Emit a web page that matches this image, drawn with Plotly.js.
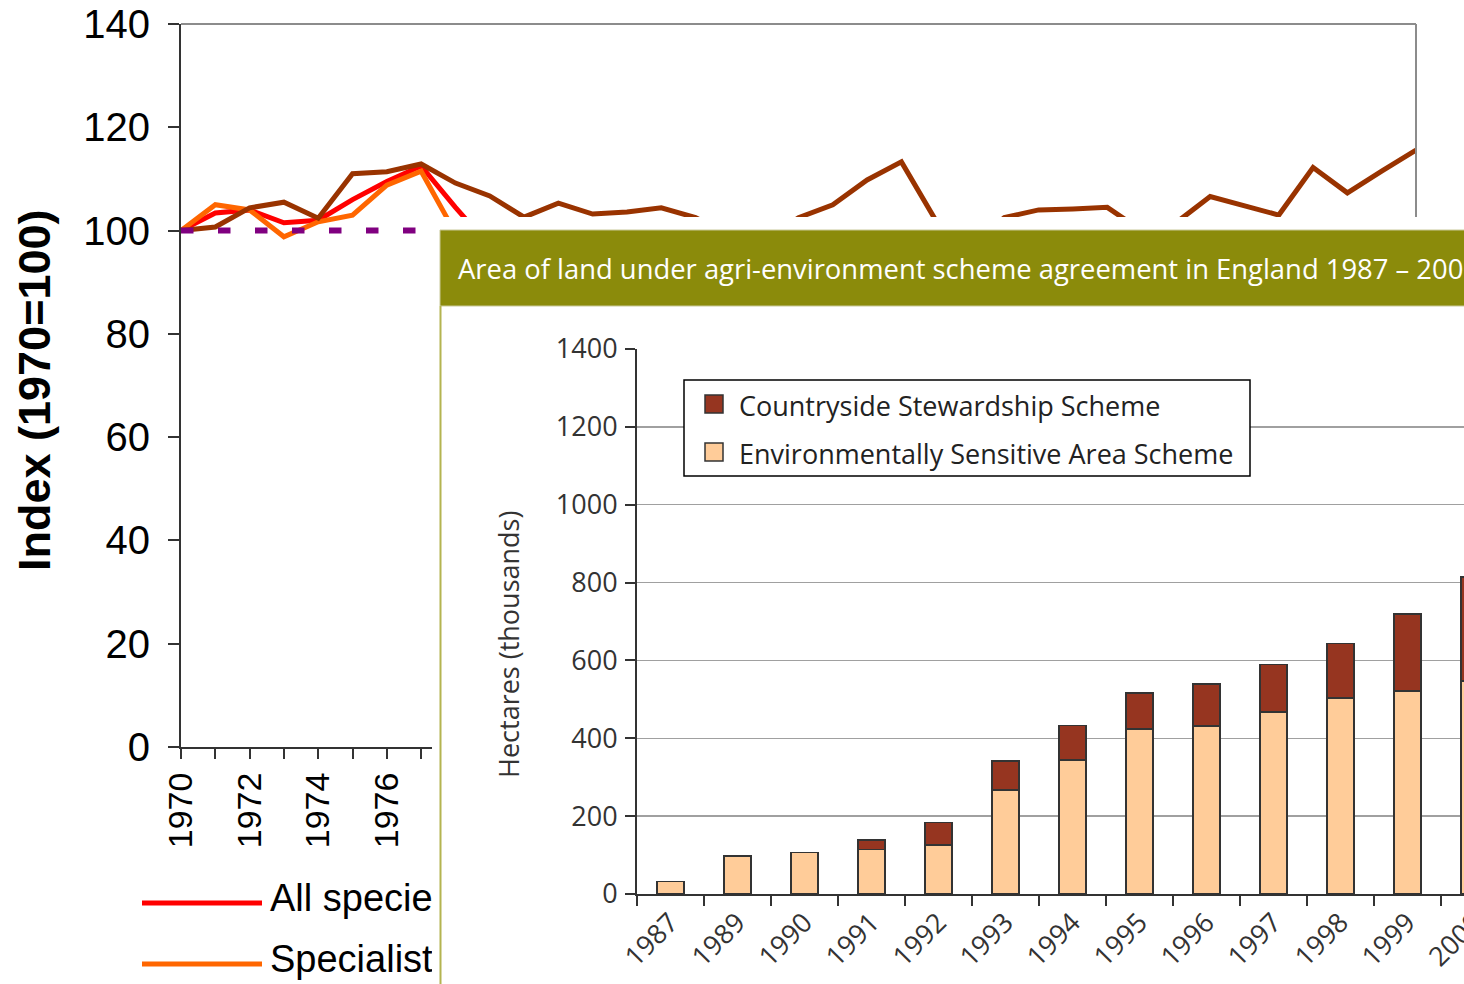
<!DOCTYPE html>
<html><head><meta charset="utf-8">
<script src="https://cdn.plot.ly/plotly-3.0.1.min.js"></script>
<style>
html,body{margin:0;padding:0;overflow:hidden;width:1464px;height:984px;background:#fff;}
#main{position:absolute;left:0;top:0;width:1464px;height:984px;}
#inset{position:absolute;left:432px;top:217px;width:1096px;height:767px;}
</style></head><body>
<div id="main"></div><div id="inset"></div>
<script>
// ---------- background chart data (index 1970=100) ----------
const years = [1970,1971,1972,1973,1974,1975,1976,1977,1978,1979,1980,1981,1982,1983,1984,1985,1986,1987,1988,1989,1990,1991,1992,1993,1994,1995,1996,1997,1998,1999,2000,2001,2002,2003,2004,2005,2006];
const allSpeciesYears = [1970,1971,1972,1973,1974,1975,1976,1977,1978,1979];
const allSpecies = [100,103.4,104,101.5,102,106,109.5,112.5,104.5,97];
const specialistsYears = [1970,1971,1972,1973,1974,1975,1976,1977,1978];
const specialists = [100,105,104,98.8,101.7,103,108.8,111.5,99.5];
const generalists = [100,100.7,104.4,105.5,102.4,111,111.4,112.9,109.2,106.7,102.6,105.3,103.2,103.6,104.4,102.5,99,98,102.5,105,109.8,113.3,102,97,102.5,104,104.2,104.5,100,101.5,106.6,104.8,103,112.2,107.3,111.5,115.6];
const baselineYears = [1970,2006];
const baselineValues = [100,100];
const lineLegend = ['All species','Specialists'];

// ---------- inset chart data (hectares, thousands) ----------
const schemeYears = ['1987','1989','1990','1991','1992','1993','1994','1995','1996','1997','1998','1999','2000'];
const esaValues = [32,98,106,114,126,267,344,424,432,468,503,522,547];
const cssValues = [null,null,null,25,58,75,89,92,108,121,140,197,267];
const insetTitle = 'Area of land under agri-environment scheme agreement in England 1987 \u2013 2000';
const insetLegend = ['Countryside Stewardship Scheme','Environmentally Sensitive Area Scheme'];

// ---------- main chart ----------
const mL=181, mT=24, mW=1235, mH=723;
const mx = X => (X-mL)/mW;
const my = Y => (mT+mH-Y)/mH;
const axisCol = '#333';

const mainTraces = [
  {x:allSpeciesYears, y:allSpecies, type:'scatter', mode:'lines', line:{color:'#ff0000', width:5}, name:lineLegend[0]},
  {x:specialistsYears, y:specialists, type:'scatter', mode:'lines', line:{color:'#ff6600', width:5}, name:lineLegend[1]},
  {x:years, y:generalists, type:'scatter', mode:'lines', line:{color:'#993300', width:5}, name:'Generalists'},
  {x:baselineYears, y:baselineValues, type:'scatter', mode:'lines', line:{color:'#800080', width:6, dash:'12.5px,24.5px'}, name:'Baseline'}
];

const mainLayout = {
  width:1464, height:984,
  margin:{l:mL, r:1464-mL-mW, t:mT, b:984-mT-mH, pad:0},
  paper_bgcolor:'#fff', plot_bgcolor:'#fff',
  showlegend:false,
  font:{family:'"Liberation Sans", Arial, sans-serif', color:'#000'},
  xaxis:{range:[1970,2006], tick0:1970, dtick:2, ticks:'outside', ticklen:10, tickwidth:2, tickcolor:axisCol,
         showline:true, linecolor:axisCol, linewidth:2, showgrid:false, zeroline:false, tickangle:-90,
         tickfont:{size:34, color:'#000'}, ticklabelstandoff:0,
         minor:{dtick:1, ticks:'outside', ticklen:10, tickwidth:2, tickcolor:axisCol, showgrid:false}},
  yaxis:{range:[0,140], dtick:20, ticks:'outside', ticklen:11, tickwidth:2, tickcolor:axisCol,
         showline:true, linecolor:axisCol, linewidth:2, showgrid:false, zeroline:false,
         tickfont:{size:40, color:'#000'}, ticklabelstandoff:10},
  shapes:[
    {type:'line', xref:'paper', yref:'paper', x0:0, x1:1, y0:1, y1:1, line:{color:'#8c8c8c', width:2}},
    {type:'line', xref:'paper', yref:'paper', x0:1, x1:1, y0:0, y1:1, line:{color:'#8c8c8c', width:2}},
    {type:'line', xref:'paper', yref:'paper', x0:mx(142), x1:mx(262), y0:my(903), y1:my(903), line:{color:'#ff0000', width:5}},
    {type:'line', xref:'paper', yref:'paper', x0:mx(142), x1:mx(262), y0:my(964), y1:my(964), line:{color:'#ff6600', width:5}}
  ],
  annotations:[
    {text:'<b>Index (1970=100)</b>', xref:'paper', yref:'paper', x:mx(34), y:my(391), textangle:-90, showarrow:false,
     xanchor:'center', yanchor:'middle', font:{size:45, color:'#000'}},
    {text:lineLegend[0], xref:'paper', yref:'paper', x:mx(268), y:my(898), showarrow:false, xanchor:'left', yanchor:'middle', font:{size:38, color:'#000'}},
    {text:lineLegend[1], xref:'paper', yref:'paper', x:mx(268), y:my(959), showarrow:false, xanchor:'left', yanchor:'middle', font:{size:38, color:'#000'}}
  ]
};
Plotly.newPlot('main', mainTraces, mainLayout, {staticPlot:true, displayModeBar:false});

// ---------- inset chart ----------
const OX=432, OY=217;
const iL=205, iT=132, iW=871, iH=545;
const sx = X => ((X-OX)-iL)/iW;
const sy = Y => (iT+iH-(Y-OY))/iH;
const cssCol = '#963520', esaCol = '#ffcc99', barLine = '#333';

const insetTraces = [
  {x:schemeYears, y:esaValues, type:'bar', name:insetLegend[1], marker:{color:esaCol, line:{color:barLine, width:1.5}}},
  {x:schemeYears, y:cssValues, type:'bar', name:insetLegend[0], marker:{color:cssCol, line:{color:barLine, width:1.5}}}
];

const insetLayout = {
  width:1096, height:767,
  margin:{l:iL, r:1096-iL-iW, t:iT, b:767-iT-iH, pad:0},
  paper_bgcolor:'#fff', plot_bgcolor:'rgba(0,0,0,0)',
  barmode:'stack', bargap:0.6, showlegend:false,
  font:{family:'"Open Sans", "Noto Sans", sans-serif', color:'#333', size:27},
  xaxis:{type:'category', range:[-0.5,12.5], tickson:'boundaries', ticks:'outside', ticklen:10, tickwidth:2, tickcolor:axisCol,
         showline:true, linecolor:axisCol, linewidth:2, showgrid:false, zeroline:false, tickangle:-45,
         tickfont:{size:27, color:'#333'}},
  yaxis:{range:[0,1400], dtick:200, ticks:'outside', ticklen:10, tickwidth:2, tickcolor:axisCol,
         showline:true, linecolor:axisCol, linewidth:2, gridcolor:'#a0a0a0', gridwidth:1.5, zeroline:false,
         tickfont:{size:27, color:'#333'}, ticklabelstandoff:2},
  shapes:[
    {type:'rect', xref:'paper', yref:'paper', x0:sx(440), x1:sx(1700), y0:sy(306), y1:sy(230), fillcolor:'#8b8b0b', line:{color:'#c9c99a', width:1}},
    {type:'line', xref:'paper', yref:'paper', x0:sx(440.5), x1:sx(440.5), y0:sy(306), y1:sy(1000), line:{color:'#b4b450', width:2}},
    {type:'rect', xref:'paper', yref:'paper', x0:sx(684), x1:sx(1250), y0:sy(476), y1:sy(380), fillcolor:'#fff', line:{color:'#000', width:1.5}},
    {type:'rect', xref:'paper', yref:'paper', x0:sx(705), x1:sx(723), y0:sy(413), y1:sy(395), fillcolor:cssCol, line:{color:barLine, width:1.5}},
    {type:'rect', xref:'paper', yref:'paper', x0:sx(705), x1:sx(723), y0:sy(461), y1:sy(443), fillcolor:esaCol, line:{color:barLine, width:1.5}}
  ],
  annotations:[
    {text:insetTitle, xref:'paper', yref:'paper', x:sx(456), y:sy(268), showarrow:false, xanchor:'left', yanchor:'middle', font:{size:27.4, color:'#fff'}},
    {text:'Hectares (thousands)', xref:'paper', yref:'paper', x:sx(508), y:sy(645), textangle:-90, showarrow:false, xanchor:'center', yanchor:'middle', font:{size:27, color:'#333'}},
    {text:insetLegend[0], xref:'paper', yref:'paper', x:sx(737), y:sy(405), showarrow:false, xanchor:'left', yanchor:'middle', font:{size:27, color:'#222'}},
    {text:insetLegend[1], xref:'paper', yref:'paper', x:sx(737), y:sy(453), showarrow:false, xanchor:'left', yanchor:'middle', font:{size:27, color:'#222'}}
  ]
};
Plotly.newPlot('inset', insetTraces, insetLayout, {staticPlot:true, displayModeBar:false});
</script>
</body></html>
